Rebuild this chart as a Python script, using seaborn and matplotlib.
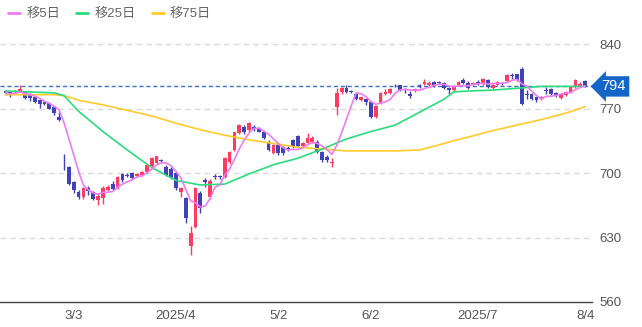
import numpy as np
import pandas as pd
import matplotlib
matplotlib.use("Agg")
import matplotlib.pyplot as plt
from matplotlib.lines import Line2D
import seaborn as sns

# Daily OHLC (yen), oldest first
opens = [789, 788, 789, 789, 788, 786, 782, 779, 777, 776, 772, 761, 707, 706, 690, 679, 674, 684, 679, 671,
         673, 682, 688, 684, 699, 698, 700, 697, 698, 701, 708, 711, 714, 707, 704, 700, 679, 673, 621, 641,
         678, 692, 674, 697, 697, 696, 712, 725, 743, 750, 747, 750, 749, 744, 734, 722, 730, 728, 727, 736,
         740, 729, 733, 734, 734, 723, 717, 711, 772, 788, 792, 789, 786, 779, 780, 777, 761, 776, 786, 787,
         796, 795, 791, 786, 789, 796, 797, 795, 799, 799, 798, 792, 790, 795, 801, 798, 796, 799, 797, 801,
         792, 796, 798, 800, 806, 807, 813, 786, 786, 782, 780, 790, 791, 787, 781, 785, 788, 793, 794, 800]
closes = [787, 785, 788, 791, 781, 781, 777, 775, 775, 770, 765, 758, 706, 688, 682, 674, 684, 680, 672, 675,
          684, 685, 683, 696, 692, 697, 695, 699, 701, 709, 716, 718, 713, 698, 695, 684, 684, 651, 635, 684,
          662, 690, 691, 696, 696, 716, 723, 744, 752, 744, 754, 748, 745, 738, 725, 730, 722, 722, 726, 728,
          729, 733, 738, 738, 723, 714, 714, 712, 787, 792, 788, 788, 780, 782, 777, 761, 773, 787, 788, 791,
          795, 790, 790, 784, 791, 794, 799, 798, 794, 798, 792, 790, 794, 799, 798, 792, 798, 797, 802, 793,
          796, 799, 797, 806, 805, 801, 775, 785, 780, 779, 783, 789, 786, 784, 786, 788, 793, 801, 797, 794]
highs = [790, 789, 790, 795, 789, 787, 783, 780, 778, 777, 773, 766, 721, 708, 691, 682, 685, 686, 680, 677,
         686, 687, 691, 697, 700, 700, 701, 700, 702, 710, 717, 719, 715, 709, 706, 702, 685, 674, 642, 685,
         680, 695, 693, 699, 698, 717, 724, 745, 753, 752, 755, 752, 750, 746, 736, 731, 731, 729, 729, 737,
         741, 734, 743, 740, 736, 724, 720, 716, 792, 793, 796, 790, 787, 783, 781, 778, 774, 788, 791, 792,
         797, 796, 792, 789, 792, 797, 802, 800, 800, 800, 799, 793, 795, 800, 803, 800, 799, 801, 803, 802,
         797, 800, 799, 807, 809, 808, 815, 790, 787, 783, 784, 793, 792, 788, 787, 789, 794, 802, 799, 801]
lows = [785, 783, 787, 788, 780, 778, 776, 771, 774, 769, 763, 757, 703, 687, 678, 672, 672, 676, 671, 665,
        666, 681, 682, 683, 690, 696, 694, 696, 697, 700, 707, 710, 711, 697, 693, 682, 674, 646, 611, 640,
        657, 685, 672, 694, 694, 695, 710, 724, 742, 742, 745, 746, 744, 737, 724, 721, 720, 720, 724, 727,
        728, 728, 732, 733, 722, 712, 712, 706, 763, 786, 787, 787, 779, 778, 774, 760, 760, 775, 785, 786,
        793, 789, 787, 781, 788, 792, 796, 794, 793, 797, 791, 786, 789, 794, 797, 791, 795, 795, 796, 792,
        791, 795, 796, 799, 802, 800, 774, 780, 779, 777, 779, 786, 785, 783, 780, 784, 787, 792, 793, 793]

# 25-day and 75-day moving averages, sampled every few sessions
ma_idx = [0, 5, 10, 12, 15, 20, 25, 30, 35, 40, 45, 50, 55, 60, 65, 70, 75, 80, 85, 90, 92, 95,
          100, 105, 110, 115, 119]
ma25 = [789, 788, 787, 784, 767, 745, 725, 706, 692, 687, 688, 699, 709, 716, 726, 737, 745, 752,
        766, 780, 788, 789, 790, 792, 794, 794, 794]
ma75 = [785, 785, 785, 784, 779, 774, 768, 762, 754, 747, 741, 736, 732, 728, 726, 724, 724, 724,
        725, 732, 735, 739, 746, 752, 758, 765, 772]

tick_pos = [14, 35, 56, 75, 97, 119]
tick_labels = ["3/3", "2025/4", "5/2", "6/2", "2025/7", "8/4"]
y_ticks = [560, 630, 700, 770, 840]
last_price = 794

UP, DOWN = "#ff3b5f", "#4141b9"
C5, C25, C75 = "#f07cf0", "#2bdc7d", "#ffcb2b"

sns.set_theme(style="white")
plt.rcParams["font.family"] = ["Liberation Sans", "Noto Sans CJK JP", "DejaVu Sans"]

n = len(closes)
idx = np.arange(n)
o, c, h, l = map(np.asarray, (opens, closes, highs, lows))
colors = np.where(c >= o, UP, DOWN)

fig = plt.figure(figsize=(6.42, 3.27), dpi=100)
ax = fig.add_axes([0, 25 / 327, 592 / 642, 274 / 327])

# grid
for v in y_ticks[1:]:
    ax.axhline(v, color="#d9d9d9", lw=1, ls=(0, (4, 3)), zorder=0)

# candles
ax.vlines(idx, l, h, color=colors, lw=1, zorder=2)
body = np.maximum(np.abs(c - o), 0.8)
ax.bar(idx, body, bottom=np.minimum(o, c), width=0.78, color=colors, linewidth=0, zorder=3)

# moving averages
ma5 = pd.Series(closes).rolling(5, min_periods=1).mean()
df5 = pd.DataFrame({"i": idx, "v": ma5})
df25 = pd.DataFrame({"i": ma_idx, "v": ma25})
df75 = pd.DataFrame({"i": ma_idx, "v": ma75})
sns.lineplot(data=df75, x="i", y="v", color=C75, lw=1.2, ax=ax, zorder=4)
sns.lineplot(data=df25, x="i", y="v", color=C25, lw=1.2, ax=ax, zorder=4)
sns.lineplot(data=df5, x="i", y="v", color=C5, lw=1.2, ax=ax, zorder=5)

# last price
ax.axhline(last_price, color="#3a72c8", lw=1, ls=(0, (3, 2)), zorder=1)
ax.annotate(str(last_price), xy=(1.0, last_price), xycoords=("axes fraction", "data"),
            xytext=(7, 0), textcoords="offset points", ha="left", va="center",
            color="white", fontsize=10.5,
            bbox=dict(boxstyle="larrow,pad=0.22", fc="#1565c8", ec="none"),
            annotation_clip=False, zorder=6)

ax.set_xlim(-1.13, 120.4)
ax.set_ylim(560, 857.4)
ax.set_xticks(tick_pos)
ax.set_xticklabels(tick_labels)
ax.yaxis.tick_right()
ax.set_yticks(y_ticks)
ax.set_yticklabels([str(v) for v in y_ticks])
ax.tick_params(axis="both", length=0, labelsize=9.5, colors="#555555")
ax.tick_params(axis="y", pad=5)
ax.tick_params(axis="x", pad=6)
ax.set_xlabel("")
ax.set_ylabel("")
for s in ["top", "left", "right"]:
    ax.spines[s].set_visible(False)
ax.spines["bottom"].set_color("#444444")
ax.spines["bottom"].set_linewidth(1)
ax.patch.set_alpha(0)

handles = [Line2D([], [], color=C5, lw=2), Line2D([], [], color=C25, lw=2), Line2D([], [], color=C75, lw=2)]
fig.legend(handles, ["移5日", "移25日", "移75日"], loc="upper left", bbox_to_anchor=(0.0, 1.0),
           ncol=3, frameon=False, fontsize=9.5, handlelength=0.9, handletextpad=0.5,
           columnspacing=1.2, labelcolor="#666666", borderaxespad=0.2)

fig.savefig("out.png", dpi=100)
